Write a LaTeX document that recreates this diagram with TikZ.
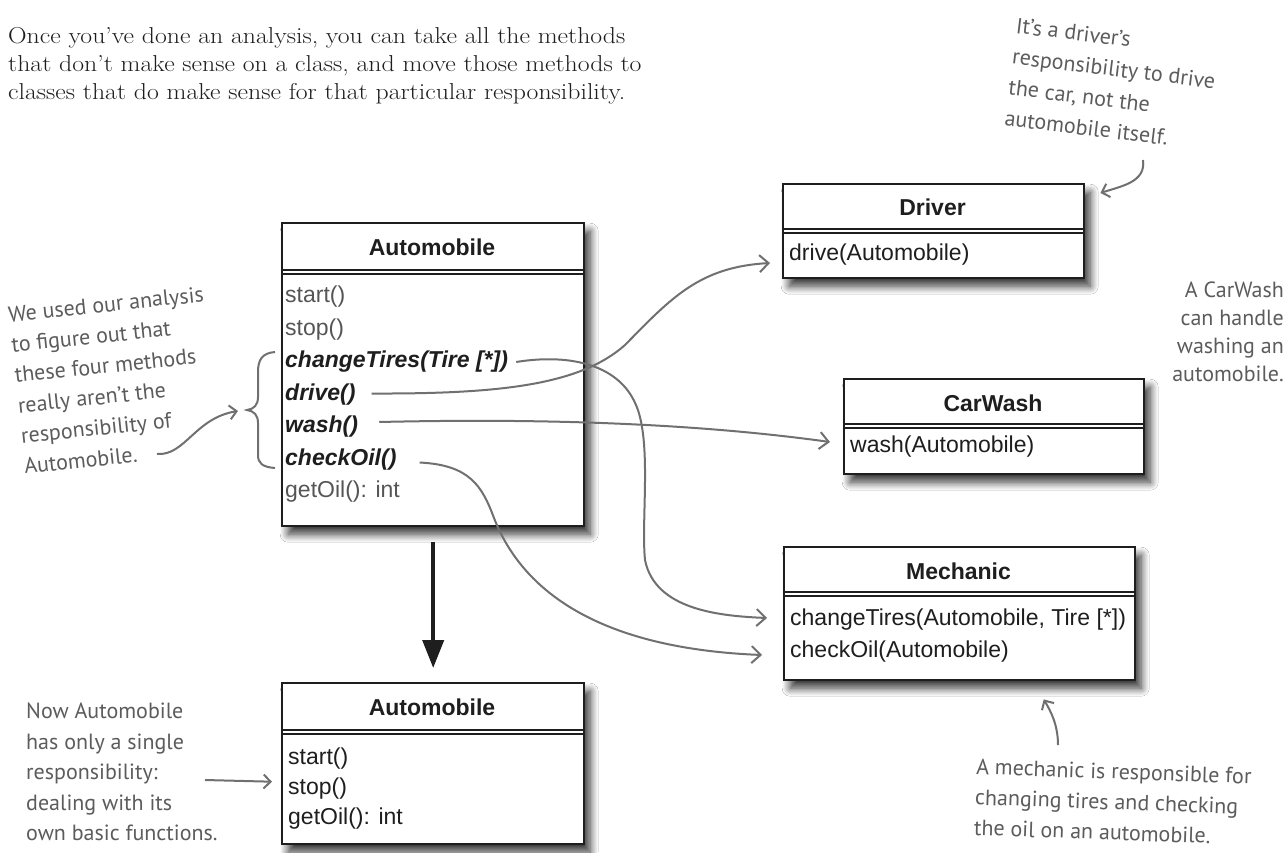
\documentclass[tikz,border=0pt]{standalone}
\usepackage{fontspec}
\newfontfamily\umlfont{Liberation Sans}
\newfontfamily\handfont{PT Sans}
\newfontfamily\introfont{Latin Modern Roman}[FakeStretch=1.12]
\usetikzlibrary{arrows.meta,shadows.blur}
\definecolor{handcol}{HTML}{5C5C5C}
\definecolor{conncol}{HTML}{707070}
\definecolor{dimtext}{HTML}{555555}
\definecolor{inktext}{HTML}{1E1E1E}
\tikzset{
  classbox/.style={draw=inktext, line width=2.4pt, fill=white, anchor=north west, inner sep=0pt,
    blur shadow={shadow xshift=6pt, shadow yshift=-8pt, shadow blur radius=8pt, shadow blur steps=12, shadow opacity=80}},
  ctitle/.style={font=\umlfont\bfseries\fontsize{23}{26}\selectfont, inner sep=0pt, text=inktext},
  meth/.style={font=\umlfont\fontsize{23}{26}\selectfont, anchor=west, inner sep=1pt, text=inktext},
  methx/.style={meth, font=\umlfont\bfseries\itshape\fontsize{23}{26}\selectfont},
  dblsep/.style={draw=inktext, line width=1.7pt},
  conn/.style={draw=conncol, line width=2pt, -{Straight Barb[length=9pt,width=17pt]}},
  harrow/.style={draw=conncol, line width=2pt, -{Straight Barb[length=7pt,width=14pt]}},
  hline/.style={draw=conncol, line width=2pt},
  hnote/.style={text=handcol, font=\handfont\fontsize{22}{30.5}\selectfont, inner sep=0pt},
}
\begin{document}
\begin{tikzpicture}[x=1pt,y=-1pt]
\fill[white] (0,0) rectangle (1287,852);
\path[use as bounding box] (0,0) rectangle (1287,852);

% intro text
\node[anchor=north west, align=left, inner sep=0pt, text=inktext, font=\introfont\fontsize{23}{28}\selectfont] (intro) at (8,27)
  {Once you’ve done an analysis, you can take all the methods\\that don’t make sense on a class, and move those methods to\\classes that do make sense for that particular responsibility.};

% ---- Automobile (before)
\node[classbox, minimum width=302pt, minimum height=303pt] (autoA) at (281,222) {};
\draw[dblsep] (281,270) -- (583,270);
\draw[dblsep] (281,274) -- (583,274);
\node[ctitle] (a-title) at (432,247) {Automobile};
\node[meth, text=dimtext] (a-start) at (284,297) {start()};
\node[meth, text=dimtext] (a-stop) at (284,329.5) {stop()};
\node[methx] (a-tires) at (284,362) {changeTires(Tire [*])};
\node[methx] (a-drive) at (284,394.5) {drive()};
\node[methx] (a-wash) at (284,427) {wash()};
\node[methx] (a-oil) at (284,459.5) {checkOil()};
\node[meth, text=dimtext] (a-getoil) at (284,492) {getOil(): int};

% ---- Automobile (after)
\node[classbox, minimum width=302pt, minimum height=161pt] (autoB) at (281,682) {};
\draw[dblsep] (281,730) -- (583,730);
\draw[dblsep] (281,734) -- (583,734);
\node[ctitle] (b-title) at (432,707) {Automobile};
\node[meth] (b-start) at (287,759) {start()};
\node[meth] (b-stop) at (287,789) {stop()};
\node[meth] (b-getoil) at (287,819) {getOil(): int};

% ---- Driver
\node[classbox, minimum width=301pt, minimum height=94pt] (driver) at (782,183) {};
\draw[dblsep] (782,229) -- (1083,229);
\draw[dblsep] (782,233) -- (1083,233);
\node[ctitle] (d-title) at (932.5,207) {Driver};
\node[meth] (d-drive) at (788,255) {drive(Automobile)};

% ---- CarWash
\node[classbox, minimum width=300pt, minimum height=95pt] (carwash) at (843,378) {};
\draw[dblsep] (843,424) -- (1143,424);
\draw[dblsep] (843,428) -- (1143,428);
\node[ctitle] (w-title) at (993,403) {CarWash};
\node[meth] (w-wash) at (849,447) {wash(Automobile)};

% ---- Mechanic
\node[classbox, minimum width=351pt, minimum height=133pt] (mech) at (783,546) {};
\draw[dblsep] (783,592) -- (1134,592);
\draw[dblsep] (783,596) -- (1134,596);
\node[ctitle] (m-title) at (958.5,571) {Mechanic};
\node[meth] (m-tires) at (789,620) {changeTires(Automobile, Tire [*])};
\node[meth] (m-oil) at (789,652) {checkOil(Automobile)};

% ---- big arrow
\draw[draw=inktext, line width=4pt, -{Triangle[length=28pt,width=21pt]}]
  ([yshift=-15pt]autoA.south) -- ([yshift=14pt]autoB.north);

% ---- method connectors
\draw[conn] ([shift={(15,-1)}]a-drive.east) .. controls (500,394) and (580,385) .. (625,345)
  .. controls (672,297) and (700,267) .. ([shift={(-18,8)}]d-drive.west);
\draw[conn] ([shift={(7,0)}]a-tires.east) .. controls (565,354) and (618,362) .. (636,405)
  .. controls (652,442) and (641,520) .. (645,560)
  .. controls (655,610) and (720,616) .. ([shift={(-22,-2)}]m-tires.west);
\draw[conn] ([shift={(20,-5)}]a-wash.east) .. controls (550,418) and (700,424) .. ([shift={(-19,-5)}]w-wash.west);
\draw[conn] ([shift={(22,3)}]a-oil.east) .. controls (470,465) and (482,486) .. (494,518)
  .. controls (520,585) and (590,648) .. ([shift={(-27,3)}]m-oil.west);

% ---- annotations
\node[hnote, align=left, rotate=-7, font=\handfont\fontsize{22}{31}\selectfont] (n-driver) at (1112,84)
  {It’s a driver’s\\responsibility to drive\\the car, not the\\automobile itself.};
\coordinate (c-drv0) at (1143,160);
\draw[harrow] (c-drv0) .. controls (1146,182) and (1122,186) .. ([shift={(15,10)}]driver.north east);

\node[hnote, align=left, rotate=6] (n-four) at (114,380)
  {We used our analysis\\to figure out that\\these four methods\\really aren’t the\\responsibility of\\Automobile.};
\draw[hline] (275,352) .. controls (262,353) and (258,360) .. (258,372) -- (258,397)
  .. controls (258,405) and (254,409) .. (247,410) .. controls (254,411) and (258,415) .. (258,423)
  -- (258,455) .. controls (258,463) and (262,467) .. (275,468);
\coordinate (c-four) at (157,454);
\coordinate (c-bracetip) at (238,411);
\draw[harrow] (c-four) .. controls (185,456) and (195,418) .. (c-bracetip);

\node[hnote, align=right, anchor=east, font=\handfont\fontsize{22}{28}\selectfont] (n-wash) at (1284,332)
  {A CarWash\\can handle\\washing an\\automobile.};

\node[hnote, align=left, anchor=north west] (n-now) at (26,703)
  {Now Automobile\\has only a single\\responsibility:\\dealing with its\\own basic functions.};
\coordinate (c-now0) at (205,780);
\draw[harrow] (c-now0) -- ([shift={(-9,18)}]autoB.west);

\node[hnote, align=left, anchor=west, rotate=-2] (n-mech) at (975,797)
  {A mechanic is responsible for\\changing tires and checking\\the oil on an automobile.};
\coordinate (c-mech0) at (1058,745);
\draw[harrow] (c-mech0) .. controls (1058,724) and (1050,710) .. ([shift={(84,18)}]mech.south);
\end{tikzpicture}
\end{document}
